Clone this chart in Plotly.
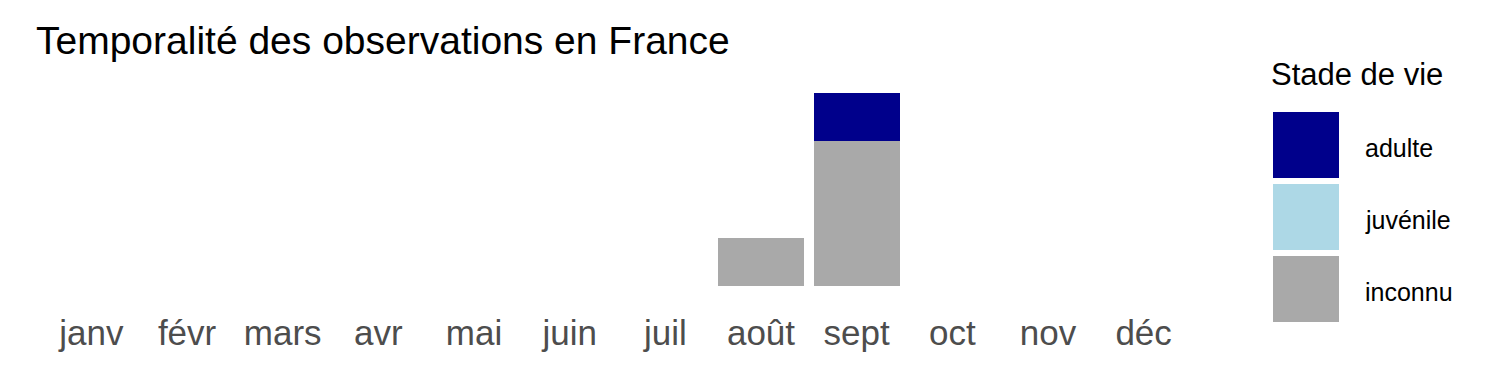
import plotly.graph_objects as go

months = ["janv", "févr", "mars", "avr", "mai", "juin", "juil", "août", "sept", "oct", "nov", "déc"]
stages = ["adulte", "juvénile", "inconnu"]
colors = ["#00008B", "#ADD8E6", "#A9A9A9"]
adulte = [0, 0, 0, 0, 0, 0, 0, 0, 1, 0, 0, 0]
juvenile = [0, 0, 0, 0, 0, 0, 0, 0, 0, 0, 0, 0]
inconnu = [0, 0, 0, 0, 0, 0, 0, 1, 3, 0, 0, 0]
values = {"adulte": adulte, "juvénile": juvenile, "inconnu": inconnu}

W, H = 1500, 375
L, R, T, B = 34, 299, 83, 79
pw, ph = W - L - R, H - T - B

def px(x):
    return (x - L) / pw

def py(y):
    return 1 - (y - T) / ph

fig = go.Figure()
# stack bottom-up: inconnu, juvénile, adulte
for name in reversed(stages):
    fig.add_trace(go.Bar(
        x=months, y=values[name], name=name,
        marker=dict(color=colors[stages.index(name)], line=dict(width=0)),
        showlegend=False,
    ))

font = "Liberation Sans, Arial, sans-serif"
fig.update_layout(
    width=W, height=H,
    margin=dict(l=L, r=R, t=T, b=B),
    barmode="stack", bargap=0.1,
    paper_bgcolor="white", plot_bgcolor="white",
    font=dict(family=font),
    title=dict(text="Temporalité des observations en France",
               x=36 / W, xanchor="left", xref="container",
               y=1 - 40 / H, yanchor="middle", yref="container",
               font=dict(size=39, color="black", family=font)),
    xaxis=dict(range=[-0.6, 11.6], showgrid=False, zeroline=False, showline=False,
               ticks="", tickfont=dict(size=35, color="#4D4D4D", family=font),
               ticklabelstandoff=13, fixedrange=True),
    yaxis=dict(range=[-0.2, 4.2], visible=False, showgrid=False, zeroline=False),
)

# manual legend (ggplot-like large keys)
fig.add_annotation(xref="paper", yref="paper", x=px(1269), y=py(75),
                   xanchor="left", yanchor="middle", showarrow=False,
                   text="Stade de vie", font=dict(size=31, color="black", family=font))
key_top, key_h, key_gap = 112, 66, 6
for i, name in enumerate(stages):
    y0 = key_top + i * (key_h + key_gap)
    fig.add_shape(type="rect", xref="paper", yref="paper",
                  x0=px(1273), x1=px(1339), y0=py(y0 + key_h), y1=py(y0),
                  fillcolor=colors[i], line=dict(width=0))
    fig.add_annotation(xref="paper", yref="paper", x=px(1363), y=py(y0 + key_h / 2 + 3),
                       xanchor="left", yanchor="middle", showarrow=False,
                       text=name, font=dict(size=25, color="black", family=font))

fig.write_html("out.html")
